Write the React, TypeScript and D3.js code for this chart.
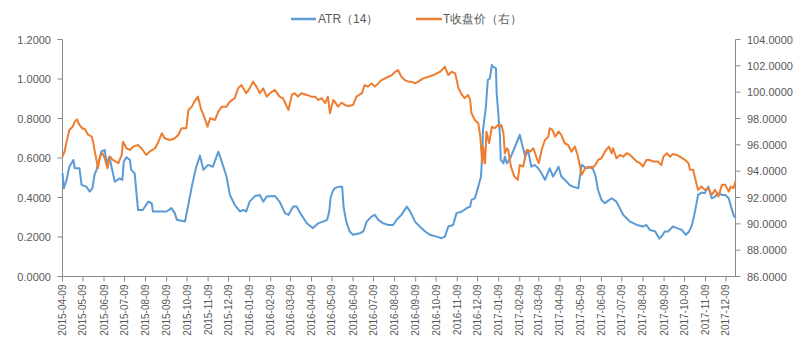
import React from "react";
import * as d3 from "d3";

// ---------- data ----------
const startDate = "2015-04-09";
const endDayOffset = 989; // last trading day, days after start

const tickLabels = [
  "2015-04-09", "2015-05-09", "2015-06-09", "2015-07-09", "2015-08-09", "2015-09-09",
  "2015-10-09", "2015-11-09", "2015-12-09", "2016-01-09", "2016-02-09", "2016-03-09",
  "2016-04-09", "2016-05-09", "2016-06-09", "2016-07-09", "2016-08-09", "2016-09-09",
  "2016-10-09", "2016-11-09", "2016-12-09", "2017-01-09", "2017-02-09", "2017-03-09",
  "2017-04-09", "2017-05-09", "2017-06-09", "2017-07-09", "2017-08-09", "2017-09-09",
  "2017-10-09", "2017-11-09", "2017-12-09",
];

const leftTicks = [0, 0.2, 0.4, 0.6, 0.8, 1.0, 1.2];
const rightTicks = [86, 88, 90, 92, 94, 96, 98, 100, 102, 104];

// ATR(14): days after start, value
const atrDays = [
  0, 2, 6, 10, 16, 18, 25, 28, 35, 40, 44, 47, 50, 54, 57, 62, 65, 69, 72, 77,
  84, 88, 90, 94, 99, 101, 106, 111, 118, 126, 131, 133, 143, 153, 160, 165, 168, 180, 183, 190,
  196, 202, 207, 214, 221, 229, 234, 241, 246, 253, 261, 266, 270, 275, 283, 290, 295, 300, 312, 319,
  327, 332, 339, 344, 351, 359, 368, 376, 383, 389, 392, 394, 397, 400, 407, 411, 413, 417, 422, 427,
  437, 442, 447, 454, 459, 464, 471, 479, 486, 491, 498, 506, 511, 518, 525, 533, 540, 550, 557, 562,
  567, 574, 579, 587, 594, 599, 601, 606, 611, 615, 617, 618, 622, 625, 628, 631, 633, 637, 638, 640,
  643, 644, 648, 650, 653, 658, 665, 672, 675, 680, 684, 689, 694, 699, 704, 709, 716, 721, 729, 733,
  741, 745, 750, 758, 760, 763, 770, 778, 783, 787, 792, 797, 800, 807, 814, 819, 824, 829, 834, 844,
  853, 858, 863, 871, 877, 881, 885, 890, 897, 903, 910, 916, 921, 925, 929, 934, 939, 944, 949, 954,
  959, 964, 969, 974, 979, 983, 987, 989,
];
const atrValues = [
  0.523, 0.447, 0.489, 0.556, 0.59, 0.548, 0.548, 0.464, 0.455, 0.43, 0.447, 0.514, 0.54, 0.59, 0.632, 0.641, 0.573, 0.607, 0.556, 0.48,
  0.497, 0.489, 0.582, 0.604, 0.59, 0.54, 0.523, 0.337, 0.337, 0.379, 0.371, 0.329, 0.329, 0.329, 0.346, 0.321, 0.287, 0.278, 0.329, 0.455,
  0.548, 0.612, 0.54, 0.565, 0.556, 0.632, 0.582, 0.506, 0.413, 0.363, 0.329, 0.337, 0.329, 0.379, 0.408, 0.413, 0.379, 0.405, 0.408, 0.379,
  0.321, 0.312, 0.354, 0.354, 0.312, 0.27, 0.245, 0.27, 0.278, 0.287, 0.33, 0.4, 0.43, 0.447, 0.455, 0.455, 0.354, 0.278, 0.228, 0.211,
  0.219, 0.228, 0.278, 0.303, 0.312, 0.287, 0.27, 0.261, 0.261, 0.287, 0.312, 0.354, 0.329, 0.278, 0.253, 0.228, 0.211, 0.202, 0.194, 0.202,
  0.253, 0.261, 0.321, 0.329, 0.346, 0.354, 0.388, 0.396, 0.455, 0.506, 0.641, 0.742, 0.852, 0.995, 1.003, 1.071, 1.062, 1.054, 0.927, 0.843,
  0.708, 0.59, 0.573, 0.607, 0.573, 0.599, 0.657, 0.717, 0.675, 0.607, 0.641, 0.556, 0.565, 0.548, 0.523, 0.489, 0.548, 0.506, 0.556, 0.506,
  0.48, 0.464, 0.455, 0.447, 0.497, 0.565, 0.548, 0.556, 0.514, 0.438, 0.388, 0.371, 0.379, 0.396, 0.379, 0.346, 0.312, 0.295, 0.278, 0.261,
  0.253, 0.261, 0.236, 0.228, 0.192, 0.205, 0.228, 0.228, 0.253, 0.245, 0.236, 0.211, 0.228, 0.261, 0.321, 0.413, 0.425, 0.422, 0.455, 0.396,
  0.405, 0.422, 0.413, 0.413, 0.396, 0.346, 0.303, 0.3,
];

// T close price (right axis): days after start, value
const closeDays = [
  0, 3, 6, 10, 15, 18, 21, 25, 29, 33, 38, 43, 45, 47, 50, 52, 55, 59, 62, 66,
  70, 74, 82, 87, 89, 94, 99, 104, 111, 116, 123, 128, 136, 141, 146, 150, 158, 165, 170, 175,
  182, 185, 190, 194, 199, 204, 209, 213, 217, 224, 229, 234, 241, 246, 253, 258, 263, 270, 275, 280,
  285, 290, 295, 300, 305, 312, 319, 324, 332, 337, 341, 346, 351, 359, 366, 371, 376, 381, 386, 390,
  393, 398, 400, 405, 410, 415, 420, 427, 432, 440, 444, 449, 454, 459, 464, 469, 474, 479, 484, 489,
  493, 498, 503, 508, 513, 518, 523, 530, 538, 545, 550, 555, 562, 567, 572, 577, 582, 587, 591, 596,
  599, 601, 606, 611, 614, 615, 617, 618, 621, 623, 627, 631, 635, 640, 643, 645, 648, 650, 653, 655,
  659, 664, 669, 672, 677, 682, 687, 692, 697, 700, 704, 709, 714, 716, 720, 724, 729, 733, 738, 743,
  748, 753, 757, 760, 763, 768, 773, 778, 783, 787, 792, 797, 803, 807, 809, 814, 819, 824, 829, 834,
  839, 844, 849, 853, 858, 863, 868, 875, 880, 883, 888, 893, 897, 903, 907, 915, 920, 922, 927, 929,
  932, 934, 939, 944, 949, 954, 959, 964, 969, 974, 979, 982, 986, 989,
];
const closeValues = [
  95.1, 95.48, 96.24, 97.13, 97.38, 97.76, 97.94, 97.51, 97.26, 97.18, 96.75, 96.62, 96.24, 95.61, 94.85, 94.22, 95.1, 95.36, 94.98, 94.22,
  95.1, 94.85, 94.6, 95.23, 96.24, 95.74, 95.61, 95.86, 95.99, 95.74, 95.23, 95.48, 95.74, 96.24, 96.88, 96.5, 96.37, 96.5, 96.75, 97.26,
  97.26, 98.65, 98.9, 99.3, 99.66, 98.65, 98.02, 97.38, 98.02, 97.89, 98.52, 98.9, 98.9, 99.28, 99.54, 100.29, 100.54, 99.92, 100.29, 100.8,
  100.42, 99.92, 100.29, 99.66, 99.92, 100.17, 99.66, 99.54, 98.65, 99.79, 99.92, 99.66, 99.92, 99.79, 99.66, 99.66, 99.41, 99.54, 99.16, 99.66,
  98.4, 99.41, 99.28, 98.9, 99.2, 99.03, 98.95, 99.03, 99.66, 99.92, 100.54, 100.42, 100.67, 100.42, 100.67, 100.92, 101.05, 101.17, 101.3, 101.55,
  101.68, 101.17, 100.92, 100.8, 100.8, 100.67, 100.8, 101.05, 101.17, 101.3, 101.43, 101.55, 101.93, 101.3, 101.55, 101.43, 100.29, 99.79, 99.54, 99.79,
  99.41, 98.4, 97.89, 97.64, 96.62, 95.86, 94.6, 95.86, 94.6, 97.0, 96.12, 97.38, 97.26, 97.51, 97.38, 97.51, 96.88, 95.36, 95.74, 95.61,
  94.35, 93.59, 93.34, 94.47, 94.35, 95.61, 95.48, 95.74, 94.98, 94.6, 95.61, 96.37, 96.62, 97.26, 97.13, 96.62, 97.0, 96.75, 96.12, 95.99,
  95.48, 95.86, 95.23, 94.47, 93.72, 94.22, 94.35, 94.22, 94.47, 94.85, 94.98, 95.48, 95.86, 95.36, 95.74, 94.98, 95.23, 95.1, 95.36, 95.23,
  94.98, 94.73, 94.6, 94.35, 94.85, 94.85, 94.73, 94.73, 94.47, 95.1, 95.36, 95.1, 95.31, 95.23, 95.1, 94.85, 94.6, 94.1, 94.1, 93.59,
  92.96, 92.58, 92.83, 92.58, 92.71, 92.2, 92.58, 92.07, 92.96, 92.96, 92.45, 92.83, 92.71, 93.21,
];

const seriesNames = ["ATR（14）", "T收盘价（右）"];
const colors = ["#5B9BD5", "#ED7D31"];

// ---------- layout ----------
const W = 810;
const H = 355;
const plotLeft = 62.5;
const plotRight = 735.5;
const plotTop = 39.5;
const plotBottom = 276.5;
const axisColor = "#898989";
const textColor = "#595959";
const font = "'Liberation Sans', Arial, sans-serif";

export default function App() {
  const parse = d3.timeParse("%Y-%m-%d");
  const start = parse(startDate) as Date;
  const end = d3.timeDay.offset(start, endDayOffset);

  const x = d3.scaleTime().domain([start, end]).range([plotLeft, plotRight]);
  const yL = d3.scaleLinear().domain([0, 1.2]).range([plotBottom, plotTop]);
  const yR = d3.scaleLinear().domain([86, 104]).range([plotBottom, plotTop]);

  const atrData = atrDays.map((d, i) => ({ date: d3.timeDay.offset(start, d), v: atrValues[i] }));
  const closeData = closeDays.map((d, i) => ({ date: d3.timeDay.offset(start, d), v: closeValues[i] }));

  const lineL = d3
    .line<{ date: Date; v: number }>()
    .x((d) => x(d.date))
    .y((d) => yL(d.v));
  const lineR = d3
    .line<{ date: Date; v: number }>()
    .x((d) => x(d.date))
    .y((d) => yR(d.v));

  const tickDates = tickLabels.map((t) => parse(t) as Date);

  return (
    <svg
      width={W}
      height={H}
      style={{ position: "absolute", left: 0, top: 0, background: "#fff" }}
      fontFamily={font}
    >
      {/* legend */}
      <g>
        <line x1={291} x2={316} y1={19} y2={19} stroke={colors[0]} strokeWidth={2.5} />
        <text x={318} y={23} fontSize={12} fill={textColor}>
          {seriesNames[0]}
        </text>
        <line x1={416} x2={442} y1={19} y2={19} stroke={colors[1]} strokeWidth={2.5} />
        <text x={443} y={23} fontSize={12} fill={textColor}>
          {seriesNames[1]}
        </text>
      </g>

      {/* left axis */}
      <line x1={plotLeft} x2={plotLeft} y1={plotTop} y2={plotBottom} stroke={axisColor} />
      {leftTicks.map((t) => (
        <g key={"l" + t}>
          <line x1={plotLeft - 5} x2={plotLeft} y1={yL(t)} y2={yL(t)} stroke={axisColor} />
          <text x={51} y={yL(t) + 4} fontSize={11} fill={textColor} textAnchor="end">
            {t.toFixed(4)}
          </text>
        </g>
      ))}

      {/* right axis */}
      <line x1={plotRight} x2={plotRight} y1={plotTop} y2={plotBottom} stroke={axisColor} />
      {rightTicks.map((t) => (
        <g key={"r" + t}>
          <line x1={plotRight} x2={plotRight + 5} y1={yR(t)} y2={yR(t)} stroke={axisColor} />
          <text x={747} y={yR(t) + 4} fontSize={11} fill={textColor} textAnchor="start">
            {t.toFixed(4)}
          </text>
        </g>
      ))}

      {/* x axis */}
      <line x1={plotLeft} x2={plotRight} y1={plotBottom} y2={plotBottom} stroke={axisColor} />
      {tickDates.map((d, i) => {
        const xx = x(d);
        return (
          <g key={"x" + i}>
            <line x1={xx} x2={xx} y1={plotBottom} y2={plotBottom + 5} stroke={axisColor} />
            <text
              transform={`translate(${xx + 3.5},${plotBottom + 8}) rotate(-90)`}
              fontSize={10}
              fill={textColor}
              textAnchor="end"
            >
              {tickLabels[i]}
            </text>
          </g>
        );
      })}

      {/* series */}
      <path d={lineL(atrData) ?? ""} fill="none" stroke={colors[0]} strokeWidth={2} strokeLinejoin="round" />
      <path d={lineR(closeData) ?? ""} fill="none" stroke={colors[1]} strokeWidth={2} strokeLinejoin="round" />
    </svg>
  );
}
